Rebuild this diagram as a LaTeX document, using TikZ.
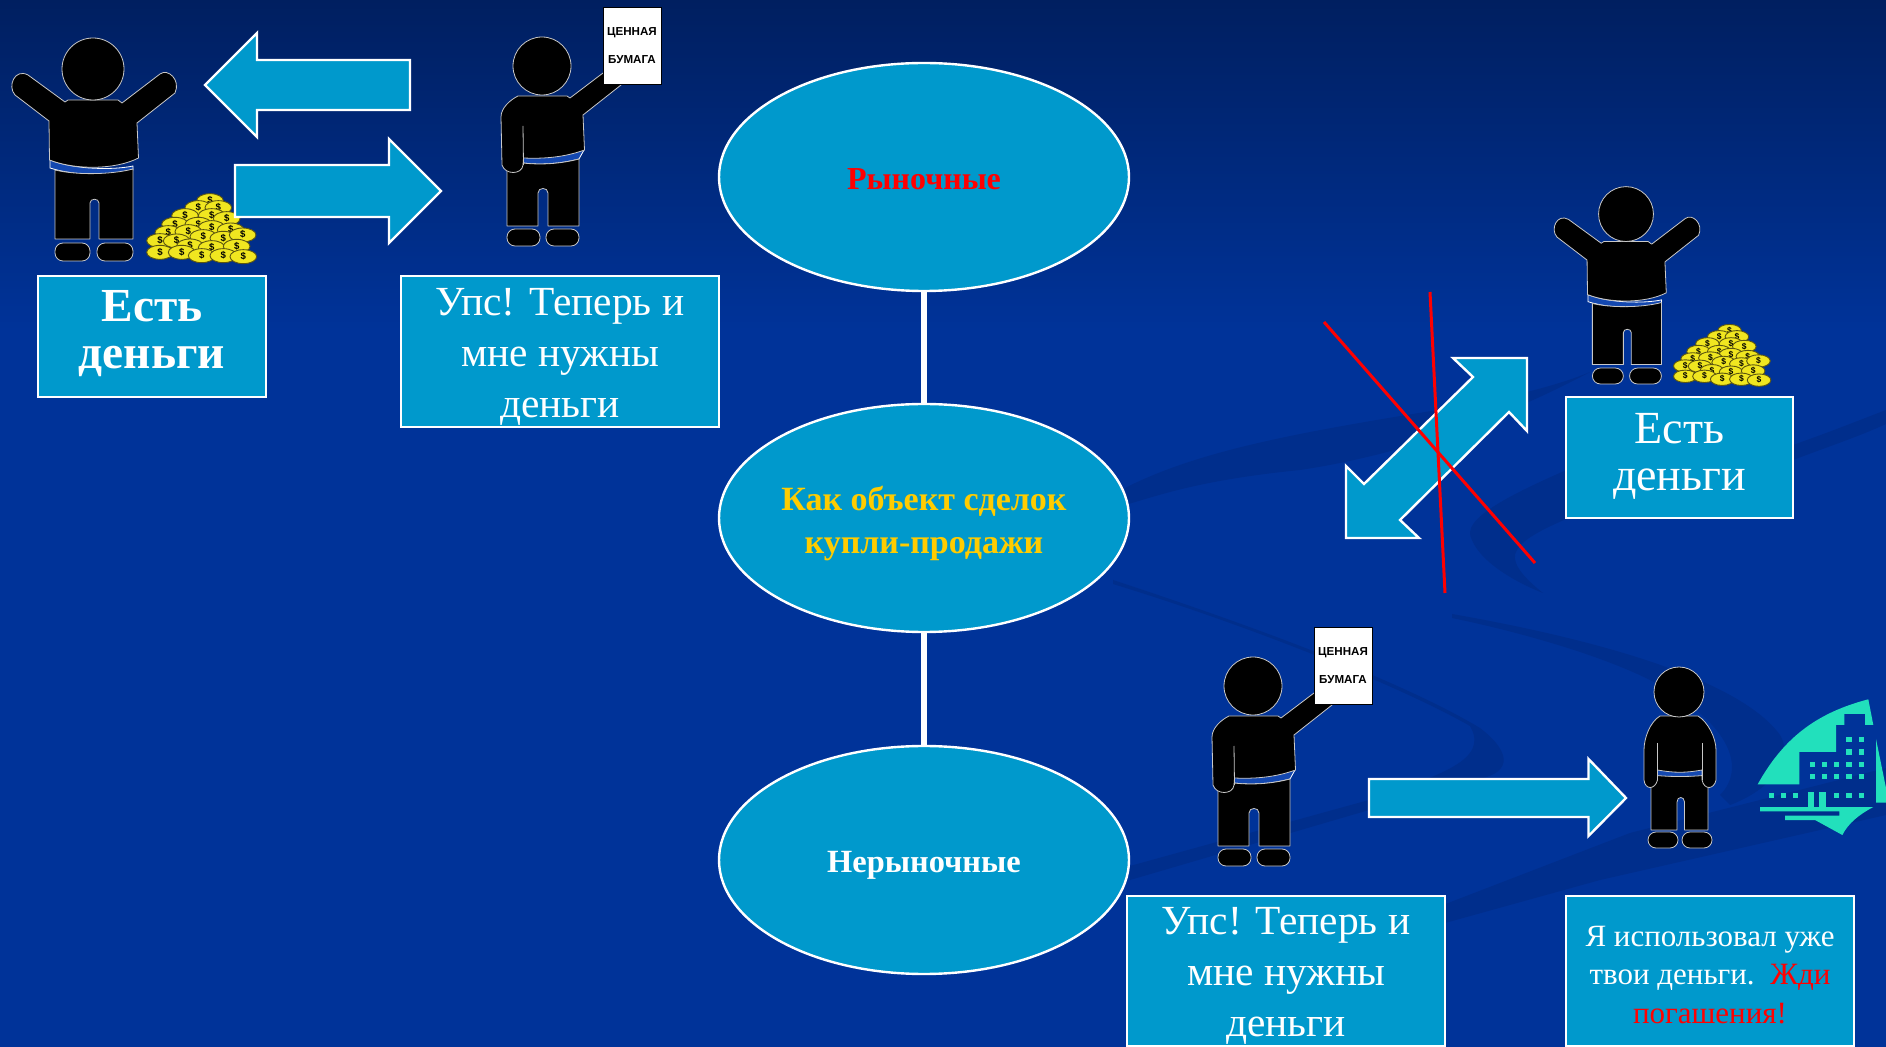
\documentclass[tikz,border=0pt]{standalone}
\usepackage{fontspec}
\usetikzlibrary{shapes.geometric}
\setmainfont{Liberation Serif}
\newfontfamily\papersans{Liberation Sans}
\definecolor{bgtop}{HTML}{001F60}
\definecolor{bgmain}{HTML}{003399}
\definecolor{bandc}{HTML}{002E8C}
\definecolor{boxc}{HTML}{0099CC}
\definecolor{titleyellow}{HTML}{FFCC00}
\definecolor{teal}{HTML}{22E0BC}
\definecolor{figline}{HTML}{C8C8C8}
\definecolor{beltc}{HTML}{1448B0}
\definecolor{coiny}{HTML}{F0E620}
\definecolor{coine}{HTML}{5C5610}
\newcommand{\fs}[2]{\fontsize{#1}{#2}\selectfont}
\tikzset{
  x=0.5pt,y=-0.5pt,
  block/.style={draw=white,line width=1.2pt,fill=boxc,miter limit=10},
  textbox/.style={block,rectangle,inner sep=0pt},
  boxtext/.style={text=white,align=center,inner sep=0pt},
  oval/.style={block,ellipse,inner sep=0pt,minimum width=205pt,minimum height=114pt},
  link/.style={draw=white,line width=3pt},
  crossline/.style={draw=red,line width=1.5pt},
  band/.style={fill=bandc,draw=none},
  figure/.style={fill=black,draw=figline,line width=0.4pt,line join=round},
  belt/.style={fill=beltc,draw=white,line width=0.4pt},
  win/.style={fill=teal,draw=none},
  pics/moneyman/.style={code={
    \draw[belt] (50,160) .. controls (75,170) and (115,170) .. (133,166) -- (133,170) .. controls (110,176) and (75,176) .. (50,168) -- cycle;
    \draw[figure] (55,170) .. controls (75,175) and (110,175) .. (133,169) -- (133,239) -- (99,239) -- (99,203) .. controls (99,198) and (90,198) .. (90,203) -- (90,239) -- (55,239) -- cycle;
    \draw[figure] (65,102) -- (68,100) -- (118,100) -- (122,103) -- (160,74) .. controls (168,68) and (181,80) .. (175,93) -- (137,123) -- (138.5,158) .. controls (115,170) and (75,170) .. (49.5,160) -- (49,121) -- (15,95) .. controls (7,86) and (15,68) .. (28,75) -- cycle;
    \draw[figure] (93,69) circle[radius=31];
    \draw[figure,rounded corners=4pt] (55,243) rectangle (90,261);
    \draw[figure,rounded corners=4pt] (97,243) rectangle (133,261);
    \begin{scope}[shift={(140,185)},x=0.16667pt,y=-0.16667pt]
      \foreach \a/\b in {210/47,175/68,235/68,135/92,215/92,260/101,105/118,175/118,215/128,272/135,85/143,145/140,190/155,250/160,308/150,60/167,110/168,150/183,215/188,290/184,60/202,125/202,185/212,250/212,310/215}{
        \draw[fill=coiny,draw=coine,line width=0.45pt] (\a,\b) circle[x radius=40,y radius=21];
        \node[transform shape,inner sep=0pt,text=black,font=\papersans\bfseries\fs{4.8}{5}] at (\a,\b-1) {\$};
      }
    \end{scope}
  }},
  pics/holder/.style={code={
    \draw[belt] (523,157) -- (584,150) -- (579,159) .. controls (560,164) and (540,165) .. (523,163) -- cycle;
    \draw[figure] (507,165) -- (523,163) .. controls (540,165) and (560,164) .. (579,159) -- (579,226) -- (548,226) -- (548,193) .. controls (548,187) and (538,187) .. (538,193) -- (538,226) -- (507,226) -- cycle;
    \draw[figure] (518,96) -- (567,96) -- (570,98) -- (603,73) -- (621,85) -- (583,115) -- (584.5,150) .. controls (565,157) and (545,159) .. (523.5,158) -- (523,165) .. controls (522,175) and (505,175) .. (502,165) -- (501,117) .. controls (501,108) and (510,100) .. (518,96) -- cycle;
    \draw[figline,line width=0.4pt] (523,126) -- (523.5,165);
    \draw[figure] (542,66) circle[radius=29];
    \draw[figure,rounded corners=4pt] (507,229) rectangle (540,246);
    \draw[figure,rounded corners=4pt] (546,229) rectangle (579,246);
    \node[rectangle,fill=white,draw=black,line width=0.4pt,minimum width=29pt,minimum height=38.5pt,inner sep=0pt] at (632,45.5) {};
    \node[font=\papersans\bfseries\fs{5.8}{7},text=black,inner sep=0pt] at (632,32.5) {ЦЕННАЯ};
    \node[font=\papersans\bfseries\fs{5.8}{7},text=black,inner sep=0pt] at (632,59.5) {БУМАГА};
  }}
}
\begin{document}
\begin{tikzpicture}
\useasboundingbox (0,0) rectangle (1886,1047);
\clip (0,0) rectangle (1886,1047);
% background
\fill[bgmain] (0,0) rectangle (1886,1047);
\shade[top color=bgtop,bottom color=bgmain] (0,0) rectangle (1886,330);
% swooshes
\fill[band] (1125,488) .. controls (1200,450) and (1300,432) .. (1450,408) .. controls (1500,400) and (1560,385) .. (1590,372) .. controls (1500,420) and (1400,455) .. (1300,470) .. controls (1200,480) and (1160,495) .. (1125,505) -- cycle;
\fill[band] (1640,440) .. controls (1500,495) and (1460,520) .. (1472,540) .. controls (1480,560) and (1510,580) .. (1543,593) .. controls (1520,575) and (1510,560) .. (1517,550) .. controls (1525,535) and (1560,520) .. (1640,490) -- cycle;
\fill[band] (1793,445) .. controls (1830,432) and (1860,420) .. (1886,410) -- (1886,424) .. controls (1860,436) and (1830,446) .. (1793,460) -- cycle;
\fill[band] (1113,580) .. controls (1250,625) and (1400,680) .. (1480,728) .. controls (1515,755) and (1510,775) .. (1473,780) -- (1369,810) -- (1130,880) -- (1130,866) -- (1369,800) .. controls (1440,775) and (1490,760) .. (1470,726) .. controls (1400,686) and (1250,626) .. (1113,584) -- cycle;
\fill[band] (1452,614) .. controls (1600,640) and (1740,680) .. (1780,735) .. controls (1795,760) and (1770,790) .. (1730,805) -- (1720,795) .. controls (1745,770) and (1735,725) .. (1650,680) .. controls (1600,655) and (1520,632) .. (1452,618) -- cycle;
\fill[band] (1300,960) -- (1630,833) -- (1886,768) -- (1886,815) -- (1600,880) -- (1445,923) -- cycle;
% logo
\fill[teal] (1757.7,784.3) .. controls (1785,735) and (1820,712) .. (1868.3,699.3) -- (1873.3,725) -- (1865,725) -- (1865,714) -- (1844.3,714) -- (1844.3,725) -- (1836,725) -- (1836,752) -- (1799.3,752) -- (1799.3,784.3) -- cycle;
\fill[teal] (1876,739) -- (1886,788) -- (1886,802.7) -- (1876,802.7) -- cycle;
\begin{scope}[shift={(1730,680)},x=0.16667pt,y=-0.16667pt]
  \foreach \a/\b in {357/178,395/178,357/216,395/216,247/253,283/253,320/253,357/253,395/253,247/289,283/289,320/289,357/289,395/289,124/347,160/347,197/347,320/347,357/347,395/347}{
    \fill[win] (\a-8,\b-8) rectangle (\a+8,\b+8);
  }
  \fill[win] (234,335) rectangle (253,381);
  \fill[win] (268,335) rectangle (287,381);
  \fill[win] (90,381) -- (430,381) .. controls (385,405) and (355,430) .. (337,465) -- (255,420) -- (165,420) -- (165,407) -- (328,407) -- (328,394) -- (90,394) -- cycle;
\end{scope}
% figures
\pic at (0,0) {moneyman};
\pic[scale=.885] at (1543.7,153) {moneyman};
\pic at (0,0) {holder};
\pic at (711,620) {holder};
% standing figure
\draw[belt] (1655,768) -- (1704,768) -- (1704,776) -- (1655,776) -- cycle;
\draw[figure] (1651,775) .. controls (1670,777) and (1690,777) .. (1708,775) -- (1708,830) -- (1684.5,830) -- (1684.5,802) .. controls (1684.5,796) and (1677,796) .. (1677,802) -- (1677,830) -- (1651,830) -- cycle;
\draw[figure] (1660,716) -- (1698,716) .. controls (1708,722) and (1716,738) .. (1716,750) -- (1716,780) .. controls (1714,790) and (1704,790) .. (1702,780) -- (1702,770) .. controls (1685,773) and (1675,773) .. (1657.5,770) -- (1657.5,780) .. controls (1655,790) and (1645,790) .. (1644,780) -- (1644,750) .. controls (1644,738) and (1650,722) .. (1660,716) -- cycle;
\draw[figline,line width=0.4pt] (1657.5,743) -- (1657.5,780) (1702,743) -- (1702,780);
\draw[figure] (1679,692) circle[radius=25];
\draw[figure,rounded corners=4pt] (1648,832) rectangle (1678,848);
\draw[figure,rounded corners=4pt] (1682,832) rectangle (1712,848);
% block arrows
\draw[block] (205,85) -- (257,33) -- (257,60) -- (410,60) -- (410,110) -- (257,110) -- (257,137) -- cycle;
\draw[block] (235,165) -- (389,165) -- (389,139) -- (441,191) -- (389,243) -- (389,217) -- (235,217) -- cycle;
\draw[block] (1369,779) -- (1588.5,779) -- (1588.5,759) -- (1626,798) -- (1588.5,836) -- (1588.5,817) -- (1369,817) -- cycle;
\draw[block] (1527,358) -- (1453,358) -- (1473,377) -- (1364,484) -- (1346,466) -- (1346,538) -- (1419,538) -- (1400,520) -- (1509,412) -- (1527,431) -- cycle;
% cross lines
\coordinate (c1a) at (1324,322);
\coordinate (c1b) at (1535,563);
\coordinate (c2a) at (1430,292);
\coordinate (c2b) at (1445,593);
\draw[crossline] (c1a) -- (c1b);
\draw[crossline] (c2a) -- (c2b);
% ovals
\node[oval] (e1) at (924,177) {};
\node[oval] (e2) at (924,518) {};
\node[oval] (e3) at (924,860) {};
\draw[link] (e1) -- (e2);
\draw[link] (e2) -- (e3);
\node[boxtext,text=red,font=\bfseries\fs{16}{18}] (te1) at (924,179.5) {Рыночные};
\node[boxtext,text=titleyellow,font=\bfseries\fs{17}{21.5}] (te2) at (924,524) {Как объект сделок\\купли-продажи};
\node[boxtext,font=\bfseries\fs{16.2}{18}] (te3) at (924,865) {Нерыночные};
% boxes
\node[textbox,minimum width=114pt,minimum height=60.5pt] (b1) at (152,336.5) {};
\node[boxtext,font=\bfseries\fs{23.7}{23.5}] (t1) at (152,333.5) {Есть\\деньги};
\node[textbox,minimum width=159pt,minimum height=75.5pt] (b2) at (560,351.5) {};
\node[boxtext,font=\fs{20.7}{25.4}] (t2) at (560,357) {Упс! Теперь и\\мне нужны\\деньги};
\node[textbox,minimum width=113.5pt,minimum height=60.5pt] (b3) at (1679.5,457.5) {};
\node[boxtext,font=\fs{23}{23.5}] (t3) at (1679.5,456.3) {Есть\\деньги};
\node[textbox,minimum width=159pt,minimum height=75pt] (b4) at (1286,971) {};
\node[boxtext,font=\fs{20.7}{25.4}] (t4) at (1286,976) {Упс! Теперь и\\мне нужны\\деньги};
\node[textbox,minimum width=144pt,minimum height=75pt] (b5) at (1710,971) {};
\node[boxtext,font=\fs{15.5}{19.3}] (t5) at (1710,975) {Я использовал уже\\твои деньги.\ \ \textcolor{red}{Жди}\\\textcolor{red}{погашения!}};
\end{tikzpicture}
\end{document}
